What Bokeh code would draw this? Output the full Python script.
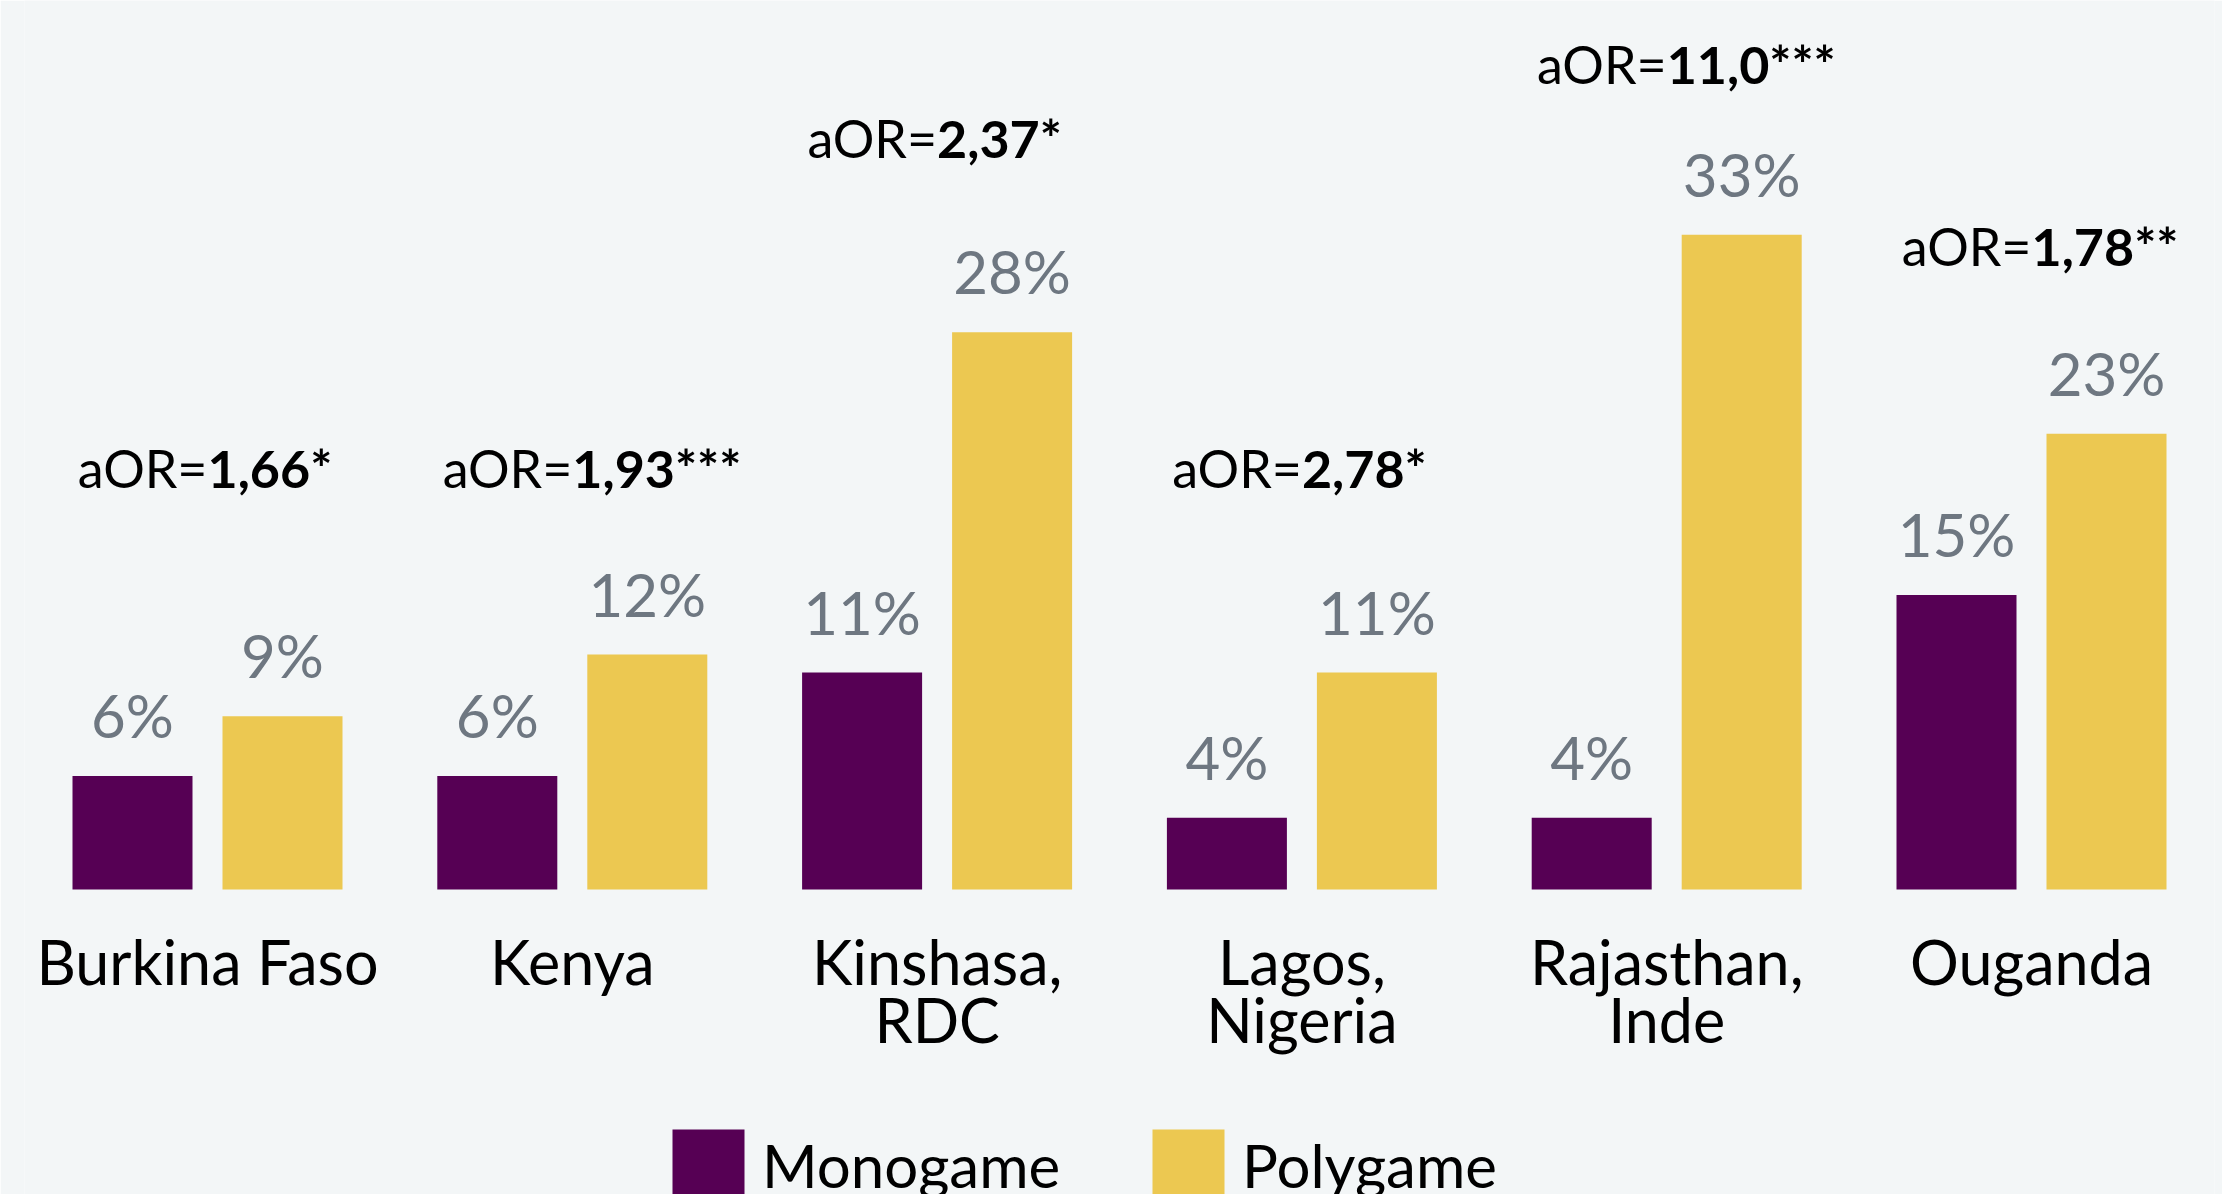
from bokeh.plotting import figure
from bokeh.models import FactorRange, Range1d, ColumnDataSource, Legend, LegendItem
from bokeh.core.properties import value
from bokeh.embed import file_html
from bokeh.resources import INLINE

# ---- data ----
countries = ["Burkina Faso", "Kenya", "Kinshasa, RDC", "Lagos, Nigeria", "Rajasthan, Inde", "Ouganda"]
series = ["Monogame", "Polygame"]
monogame = [5.7, 5.7, 10.9, 3.6, 3.6, 14.8]
polygame = [8.7, 11.8, 28.0, 10.9, 32.9, 22.9]
aor_value = ["1,66", "1,93", "2,37", "2,78", "11,0", "1,78"]
aor_signif = ["*", "***", "*", "*", "***", "**"]
aor_level = [20.2, 20.2, 36.8, 20.2, 40.5, 31.4]

# ---- styles ----
BG = "#f3f6f7"
PURPLE = "#560054"
YELLOW = "#ecc851"
GRAY = "#6e7781"
FONT = "Lato"

factors = [(c, s) for c in countries for s in series]
x_range = FactorRange(factors=factors, factor_padding=0.0, group_padding=0.432,
                      range_padding=0.22, range_padding_units="absolute")
y_range = Range1d(-15.33, 44.67)

p = figure(width=2222, height=1194, x_range=x_range, y_range=y_range,
           output_backend="svg", toolbar_location=None,
           x_axis_location=None, y_axis_location=None,
           min_border_left=24, min_border_right=8, min_border_top=0, min_border_bottom=0)
p.background_fill_color = BG
p.border_fill_color = BG
p.outline_line_color = None
p.xgrid.visible = False
p.ygrid.visible = False

renderers = {}
for name, vals, color in [("Monogame", monogame, PURPLE), ("Polygame", polygame, YELLOW)]:
    src = ColumnDataSource(dict(
        x=[(c, name) for c in countries],
        top=vals,
        label=[f"{int(v + 0.5)}%" for v in vals],
    ))
    renderers[name] = p.vbar(x="x", top="top", bottom=0, width=0.8, source=src,
                             fill_color=color, line_color=None)
    p.text(x="x", y="top", text="label", source=src, text_align="center",
           text_baseline="alphabetic", y_offset=-61, text_font=value(FONT),
           text_font_size="60px", text_color=GRAY)

# category labels (split on comma into two lines)
line1 = [c.split(", ")[0] + ("," if ", " in c else "") for c in countries]
line2 = [c.split(", ")[1] if ", " in c else "" for c in countries]
cat_src = ColumnDataSource(dict(x=countries, l1=line1, l2=line2))
p.text(x="x", y=0, text="l1", source=cat_src, text_align="center", text_baseline="alphabetic",
       y_offset=72, text_font=value(FONT), text_font_size="61px", text_color="#000000")
p.text(x="x", y=0, text="l2", source=cat_src, text_align="center", text_baseline="alphabetic",
       y_offset=130, text_font=value(FONT), text_font_size="61px", text_color="#000000")

# aOR annotations
aor_src = ColumnDataSource(dict(
    x=countries, y=aor_level,
    prefix=["aOR="] * len(countries),
    num=[v + s for v, s in zip(aor_value, aor_signif)],
))
p.text(x="x", y="y", text="prefix", source=aor_src, text_align="right", text_baseline="alphabetic",
       y_offset=-19, text_font=value(FONT), text_font_size="52px", text_color="#000000")
p.text(x="x", y="y", text="num", source=aor_src, text_align="left", text_baseline="alphabetic",
       y_offset=-19, text_font=value(FONT), text_font_size="52px", text_font_style="bold",
       text_color="#000000")

# legends
for name, loc in [("Monogame", (639, -16)), ("Polygame", (1119, -16))]:
    leg = Legend(items=[LegendItem(label=name, renderers=[renderers[name]])],
                 location=loc, orientation="horizontal",
                 glyph_width=90, glyph_height=90, label_standoff=9,
                 padding=0, margin=0, spacing=0,
                 border_line_color=None, background_fill_alpha=0,
                 label_text_font=FONT, label_text_font_size="60px",
                 label_text_baseline="middle", label_text_color="#000000")
    p.add_layout(leg)

open("out.html", "w").write(file_html(p, INLINE))
